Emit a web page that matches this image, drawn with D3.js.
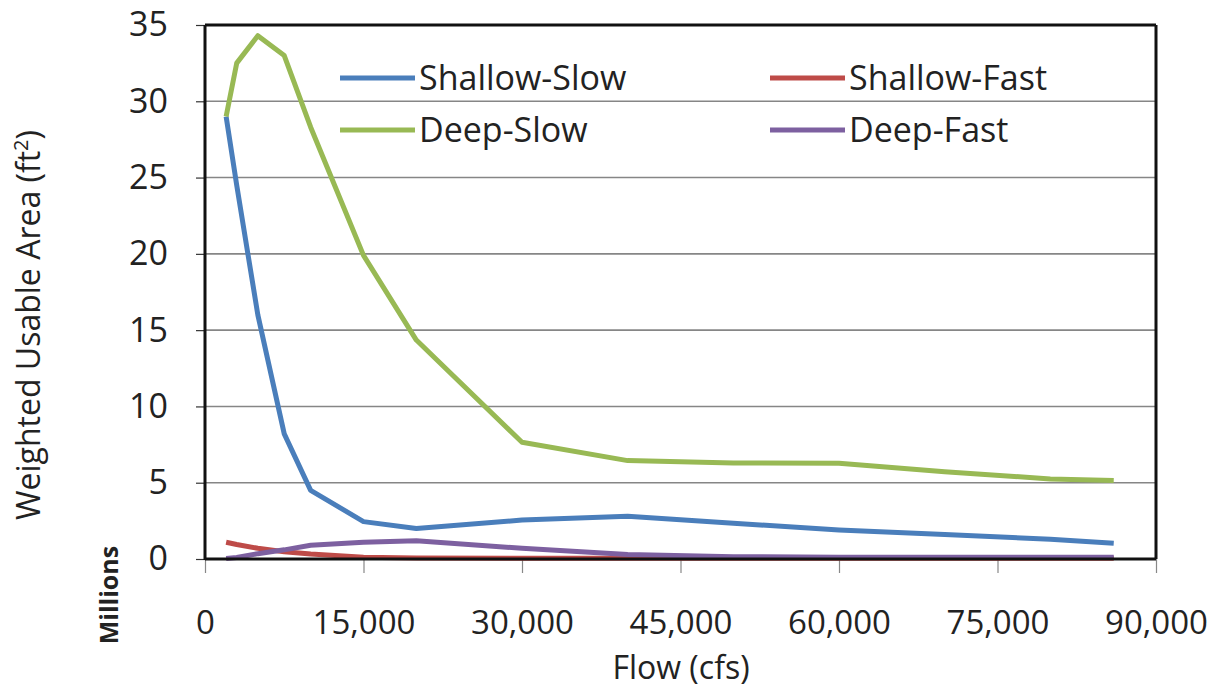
<!DOCTYPE html>
<html>
<head>
<meta charset="utf-8">
<script src="https://cdn.jsdelivr.net/npm/d3@7"></script>
<style>
  html, body { margin: 0; padding: 0; background: #fff; }
  svg { display: block; }
  text { font-family: "Open Sans", "Liberation Sans", sans-serif; fill: #222; }
</style>
</head>
<body>
<svg id="chart" width="1225" height="687"></svg>
<script>
// Flow (cfs)
const flows = [2000, 3000, 5000, 7500, 10000, 15000, 20000, 30000, 40000, 50000, 60000, 70000, 80000, 86000];
// Weighted Usable Area, millions of ft²
const shallowSlow = [29.0, 24.5, 16.0, 8.2, 4.5, 2.45, 2.0, 2.55, 2.8, 2.35, 1.9, 1.6, 1.3, 1.03];
const shallowFast = [1.1, 0.95, 0.7, 0.48, 0.33, 0.12, 0.07, 0.05, 0.05, 0.05, 0.05, 0.05, 0.05, 0.05];
const deepSlow    = [29.0, 32.5, 34.3, 33.0, 28.3, 19.9, 14.35, 7.65, 6.45, 6.3, 6.27, 5.72, 5.25, 5.15];
const deepFast    = [0.03, 0.1, 0.35, 0.6, 0.9, 1.1, 1.2, 0.7, 0.3, 0.15, 0.12, 0.12, 0.12, 0.12];

const seriesNames = ["Shallow-Slow", "Shallow-Fast", "Deep-Slow", "Deep-Fast"];
const seriesValues = [shallowSlow, shallowFast, deepSlow, deepFast];
const seriesColors = ["#4a7ebb", "#be4b48", "#98b954", "#7d60a0"];

const xTicks = [0, 15000, 30000, 45000, 60000, 75000, 90000];
const yTicks = [0, 5, 10, 15, 20, 25, 30, 35];

const svg = d3.select("#chart");
const L = 205, R = 1156, T = 25, B = 559;

const x = d3.scaleLinear().domain([0, 90000]).range([L, R]);
const y = d3.scaleLinear().domain([0, 35]).range([B, T]);

// gridlines
svg.append("g").selectAll("line").data(yTicks.filter(d => d > 0 && d < 35)).join("line")
  .attr("x1", L).attr("x2", R).attr("y1", d => y(d)).attr("y2", d => y(d))
  .attr("stroke", "#868686").attr("stroke-width", 1.6);

// y axis
const yAxis = d3.axisLeft(y).tickValues(yTicks).tickSize(9).tickPadding(28).tickFormat(d3.format("d"));
const gy = svg.append("g").attr("transform", `translate(${L},0)`).call(yAxis);
gy.select(".domain").remove();
gy.selectAll(".tick line").attr("stroke", "#333").attr("stroke-width", 1.2);
gy.selectAll(".tick text").attr("font-size", 34).attr("fill", "#222")
  .attr("font-family", "'Open Sans', sans-serif");

// x axis
const xAxis = d3.axisBottom(x).tickValues(xTicks).tickSize(14).tickPadding(38).tickFormat(d3.format(","));
const gx = svg.append("g").attr("transform", `translate(0,${B})`).call(xAxis);
gx.select(".domain").remove();
gx.selectAll(".tick line").attr("stroke", "#888").attr("stroke-width", 1.2);
gx.selectAll(".tick text").attr("font-size", 33).attr("fill", "#222")
  .attr("font-family", "'Open Sans', sans-serif");

// frame
svg.append("line").attr("x1", L).attr("x2", R).attr("y1", T).attr("y2", T).attr("stroke", "#111").attr("stroke-width", 3);
svg.append("line").attr("x1", R).attr("x2", R).attr("y1", T).attr("y2", B).attr("stroke", "#111").attr("stroke-width", 3);

// lines
const line = d3.line().x(d => x(d[0])).y(d => y(d[1]));
seriesValues.forEach((vals, i) => {
  svg.append("path")
    .datum(flows.map((f, j) => [f, vals[j]]))
    .attr("d", line)
    .attr("fill", "none")
    .attr("stroke", seriesColors[i])
    .attr("stroke-width", 5)
    .attr("stroke-linejoin", "round")
    .attr("stroke-linecap", "butt");
});

// axis lines on top
svg.append("line").attr("x1", L).attr("x2", L).attr("y1", T).attr("y2", B + 1).attr("stroke", "#111").attr("stroke-width", 3);
svg.append("line").attr("x1", L).attr("x2", R).attr("y1", B).attr("y2", B).attr("stroke", "#111").attr("stroke-width", 3);

// legend
const legendPos = [[340, 78], [770, 78], [340, 130], [770, 130]];
seriesNames.forEach((name, i) => {
  const [lx, ly] = legendPos[i];
  svg.append("line").attr("x1", lx).attr("x2", lx + 75).attr("y1", ly).attr("y2", ly)
    .attr("stroke", seriesColors[i]).attr("stroke-width", 5);
  svg.append("text").attr("x", lx + 79).attr("y", ly + 12).attr("font-size", 34).text(name);
});

// axis titles
svg.append("text").attr("x", 681).attr("y", 679).attr("text-anchor", "middle").attr("font-size", 32).text("Flow (cfs)");

const yt = svg.append("text").attr("transform", "translate(40,325) rotate(-90)").attr("text-anchor", "middle").attr("font-size", 32);
yt.append("tspan").text("Weighted Usable Area (ft");
yt.append("tspan").attr("dy", -12).attr("font-size", 20).text("2");
yt.append("tspan").attr("dy", 12).text(")");

svg.append("text").attr("transform", "translate(118,595) rotate(-90)").attr("text-anchor", "middle")
  .attr("font-size", 25).attr("font-weight", "bold").text("Millions");
</script>
</body>
</html>
